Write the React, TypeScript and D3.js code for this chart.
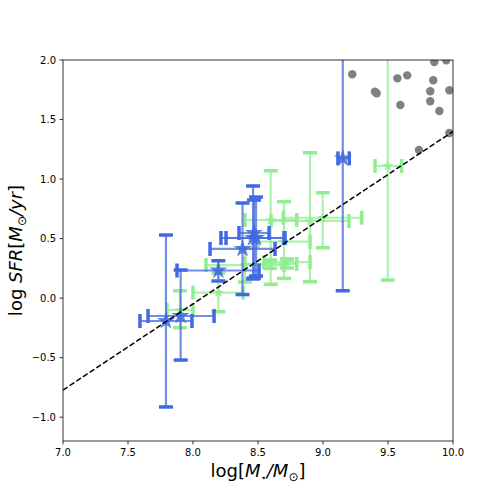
import React from 'react';
import * as d3 from 'd3';

// blue sample (stars + error bars), bounds are absolute lower / upper values
const blueX = [7.792, 7.905, 8.195, 8.381, 8.462, 8.485, 8.469, 9.152];
const blueY = [-0.192, -0.15, 0.232, 0.413, 0.505, 0.505, 0.547, 1.174];
const blueXLo = [7.592, 7.654, 7.877, 8.131, 8.215, 8.254, 8.354, 9.115];
const blueXHi = [7.992, 8.162, 8.508, 8.631, 8.7, 8.708, 8.585, 9.202];
const blueYLo = [-0.914, -0.52, 0.144, 0.03, 0.161, 0.186, 0.169, 0.062];
const blueYHi = [0.53, 0.236, 0.314, 0.799, 0.942, 0.849, 0.824, 2.29];

// green sample
const greenX = [9.498, 8.9, 8.998, 8.598, 8.7, 7.9, 8.195, 8.4, 8.592, 8.723];
const greenY = [1.11, 0.648, 0.675, 0.656, 0.474, -0.1, 0.047, 0.278, 0.287, 0.303];
const greenXLo = [9.4, 8.6, 8.695, 8.4, 8.5, 7.8, 8.0, 8.1, 8.4, 8.546];
const greenXHi = [9.605, 9.2, 9.298, 8.798, 8.9, 8.0, 8.385, 8.7, 8.798, 8.9];
const greenYLo = [0.152, 0.138, 0.423, 0.116, 0.166, -0.248, -0.114, 0.135, 0.25, 0.253];
const greenYHi = [2.068, 1.221, 0.885, 1.07, 0.81, 0.062, 0.211, 0.421, 0.32, 0.329];

// grey comparison points
const grayX = [9.225, 9.572, 9.648, 9.4, 9.413, 9.595, 9.848, 9.825, 9.825, 9.972, 9.895, 9.856, 9.948, 9.972, 9.738];
const grayY = [1.88, 1.846, 1.871, 1.734, 1.72, 1.622, 1.83, 1.737, 1.653, 1.746, 1.572, 1.983, 1.997, 1.387, 1.244];

// dashed relation
const fitX = [7.0, 10.0];
const fitY = [-0.772, 1.4];

const xTicks = [7.0, 7.5, 8.0, 8.5, 9.0, 9.5, 10.0];
const yTicks = [-1.0, -0.5, 0.0, 0.5, 1.0, 1.5, 2.0];

const W = 504;
const H = 504;
const margin = { top: 60, right: 51, bottom: 63, left: 63 };
const font = 'DejaVu Sans, sans-serif';

const xScale = d3.scaleLinear().domain([7, 10]).range([margin.left, W - margin.right]);
const yScale = d3.scaleLinear().domain([-1.2, 2.0]).range([H - margin.bottom, margin.top]);

const fmt = (v: number) => v.toFixed(1).replace('-', '\u2212');

const ErrorBars = (props: any) => {
  const { xs, ys, xlo, xhi, ylo, yhi, color, starSize } = props;
  const star = d3.symbol(d3.symbolStar).size(starSize)() as string;
  return (
    <g>
      {xs.map((x: number, i: number) => {
        const cx = xScale(x);
        const cy = yScale(ys[i]);
        const x0 = xScale(xlo[i]);
        const x1 = xScale(xhi[i]);
        const y0 = yScale(ylo[i]);
        const y1 = yScale(yhi[i]);
        return (
          <g key={i}>
            <line x1={x0} x2={x1} y1={cy} y2={cy} stroke={color} strokeOpacity={0.75} strokeWidth={2.2} />
            <line x1={cx} x2={cx} y1={y0} y2={y1} stroke={color} strokeOpacity={0.75} strokeWidth={2.2} />
            <line x1={x0} x2={x0} y1={cy - 7} y2={cy + 7} stroke={color} strokeWidth={3.5} />
            <line x1={x1} x2={x1} y1={cy - 7} y2={cy + 7} stroke={color} strokeWidth={3.5} />
            <line x1={cx - 7} x2={cx + 7} y1={y0} y2={y0} stroke={color} strokeWidth={3.5} />
            <line x1={cx - 7} x2={cx + 7} y1={y1} y2={y1} stroke={color} strokeWidth={3.5} />
            <path d={star} transform={`translate(${cx},${cy})`} fill={color} fillOpacity={0.85} />
          </g>
        );
      })}
    </g>
  );
};

export default function App() {
  const line = d3.line<number>().x((d) => xScale(d)).y((_, i) => yScale(fitY[i]));
  const x0 = margin.left;
  const x1 = W - margin.right;
  const y0 = margin.top;
  const y1 = H - margin.bottom;

  return (
    <svg width={W} height={H} style={{ position: 'absolute', left: 0, top: 0, background: '#fff' }} fontFamily={font}>
      <defs>
        <clipPath id="plot-area">
          <rect x={x0} y={y0} width={x1 - x0} height={y1 - y0} />
        </clipPath>
      </defs>
      <g clipPath="url(#plot-area)">
        <ErrorBars xs={greenX} ys={greenY} xlo={greenXLo} xhi={greenXHi} ylo={greenYLo} yhi={greenYHi} color="#90ee90" starSize={40} />
        <ErrorBars xs={blueX} ys={blueY} xlo={blueXLo} xhi={blueXHi} ylo={blueYLo} yhi={blueYHi} color="#4169e1" starSize={100} />
        {grayX.map((x, i) => (
          <circle key={i} cx={xScale(x)} cy={yScale(grayY[i])} r={4.2} fill="#808080" />
        ))}
        <path d={line(fitX) as string} fill="none" stroke="#000" strokeWidth={1.5} strokeDasharray="5.5,2.5" />
      </g>

      <rect x={x0} y={y0} width={x1 - x0} height={y1 - y0} fill="none" stroke="#000" strokeWidth={0.8} />

      {xTicks.map((t) => (
        <g key={t} transform={`translate(${xScale(t)},${y1})`}>
          <line y2={3.5} stroke="#000" strokeWidth={0.8} />
          <text y={14.5} textAnchor="middle" fontSize={10} fill="#000">{fmt(t)}</text>
        </g>
      ))}
      {yTicks.map((t) => (
        <g key={t} transform={`translate(${x0},${yScale(t)})`}>
          <line x2={-3.5} stroke="#000" strokeWidth={0.8} />
          <text x={-7} dy="0.35em" textAnchor="end" fontSize={10} fill="#000">{fmt(t)}</text>
        </g>
      ))}

      <text x={(x0 + x1) / 2} y={477} textAnchor="middle" fontSize={18} fill="#000">
        log[<tspan fontStyle="italic">M</tspan>
        <tspan fontSize={10} dy={4}>⋆</tspan>
        <tspan dy={-4} fontStyle="italic">/M</tspan>
        <tspan fontSize={12} dy={4}>⊙</tspan>
        <tspan dy={-4}>]</tspan>
      </text>

      <text transform={`translate(22,${(y0 + y1) / 2}) rotate(-90)`} textAnchor="middle" fontSize={18} fill="#000">
        log <tspan fontStyle="italic">SFR</tspan>[<tspan fontStyle="italic">M</tspan>
        <tspan fontSize={12} dy={4}>⊙</tspan>
        <tspan dy={-4} fontStyle="italic">/yr</tspan>]
      </text>
    </svg>
  );
}
